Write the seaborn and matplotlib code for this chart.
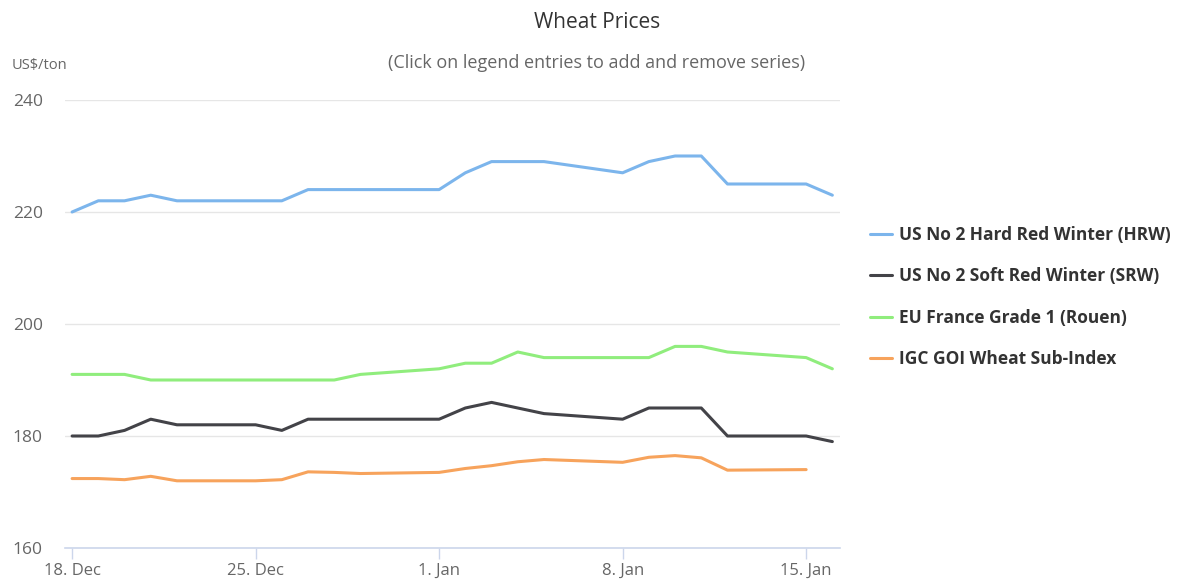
import numpy as np
import pandas as pd
import matplotlib
matplotlib.use("Agg")
import matplotlib.pyplot as plt
import seaborn as sns

dates = ["2023-12-18", "2023-12-19", "2023-12-20", "2023-12-21", "2023-12-22",
         "2023-12-25", "2023-12-26", "2023-12-27", "2023-12-28", "2023-12-29",
         "2024-01-01", "2024-01-02", "2024-01-03", "2024-01-04", "2024-01-05",
         "2024-01-08", "2024-01-09", "2024-01-10", "2024-01-11", "2024-01-12",
         "2024-01-15", "2024-01-16"]

hrw = [220, 222, 222, 223, 222, 222, 222, 224, 224, 224,
       224, 227, 229, 229, 229, 227, 229, 230, 230, 225, 225, 223]
srw = [180, 180, 181, 183, 182, 182, 181, 183, 183, 183,
       183, 185, 186, 185, 184, 183, 185, 185, 185, 180, 180, 179]
eu = [191, 191, 191, 190, 190, 190, 190, 190, 190, 191,
      192, 193, 193, 195, 194, 194, 194, 196, 196, 195, 194, 192]
igc = [172.4, 172.4, 172.2, 172.8, 172.0, 172.0, 172.2, 173.6, 173.5, 173.3,
       173.5, 174.2, 174.7, 175.4, 175.8, 175.3, 176.2, 176.5, 176.1, 173.9,
       174.0, np.nan]

series_names = ["US No 2 Hard Red Winter (HRW)", "US No 2 Soft Red Winter (SRW)",
                "EU France Grade 1 (Rouen)", "IGC GOI Wheat Sub-Index"]
colors = ["#7cb5ec", "#434348", "#90ed7d", "#f7a35c"]

tick_dates = ["2023-12-18", "2023-12-25", "2024-01-01", "2024-01-08", "2024-01-15"]
tick_labels = ["18. Dec", "25. Dec", "1. Jan", "8. Jan", "15. Jan"]
y_ticks = [160, 180, 200, 220, 240]

frames = []
for name, vals in zip(series_names, [hrw, srw, eu, igc]):
    frames.append(pd.DataFrame({"date": pd.to_datetime(dates), "value": vals, "series": name}))
df = pd.concat(frames, ignore_index=True)

sns.set_theme(style="white")
plt.rcParams["font.family"] = ["Open Sans", "DejaVu Sans"]

fig = plt.figure(figsize=(11.78, 5.79), dpi=100)
ax = fig.add_axes([65 / 1178, 1 - 548 / 579, 775 / 1178, 448 / 579])

sns.lineplot(data=df, x="date", y="value", hue="series", hue_order=series_names,
             palette=colors, linewidth=2.2, estimator=None, sort=False, ax=ax)

start = pd.Timestamp("2023-12-18")
ax.set_xlim(start - pd.Timedelta(hours=6.5), start + pd.Timedelta(days=29, hours=7))
ax.set_ylim(160, 240)

ax.set_xticks(pd.to_datetime(tick_dates))
ax.set_xticklabels(tick_labels)
ax.set_yticks(y_ticks)
ax.set_yticklabels([str(v) for v in y_ticks])

for s in ["top", "right", "left"]:
    ax.spines[s].set_visible(False)
ax.spines["bottom"].set_color("#ccd6eb")
ax.spines["bottom"].set_linewidth(1.2)
ax.grid(axis="y", color="#e6e6e6", linewidth=1)
ax.grid(axis="x", visible=False)
ax.set_axisbelow(True)

ax.tick_params(axis="x", colors="#ccd6eb", length=8, width=1, pad=3,
               labelcolor="#666666", labelsize=12, bottom=True)
ax.tick_params(axis="y", length=0, pad=16, labelcolor="#666666", labelsize=12.5)
ax.set_xlabel("")
ax.set_ylabel("")

fig.text(597 / 1178, 1 - 22 / 579, "Wheat Prices", ha="center", va="center",
         fontsize=15, color="#333333")
fig.text(597 / 1178, 1 - 63 / 579, "(Click on legend entries to add and remove series)",
         ha="center", va="center", fontsize=13, color="#666666")
fig.text(12 / 1178, 1 - 65 / 579, "US$/ton", ha="left", va="center",
         fontsize=10.5, color="#666666")

handles, labels = ax.get_legend_handles_labels()
ax.legend(handles, labels, loc="upper left", bbox_to_anchor=(854 / 1178, 1 - 210 / 579),
          bbox_transform=fig.transFigure, frameon=False,
          prop={"weight": "bold", "size": 12.5}, labelcolor="#333333",
          handlelength=1.3, handletextpad=0.4, labelspacing=1.36)

fig.savefig("out.png", dpi=100, facecolor="white")
